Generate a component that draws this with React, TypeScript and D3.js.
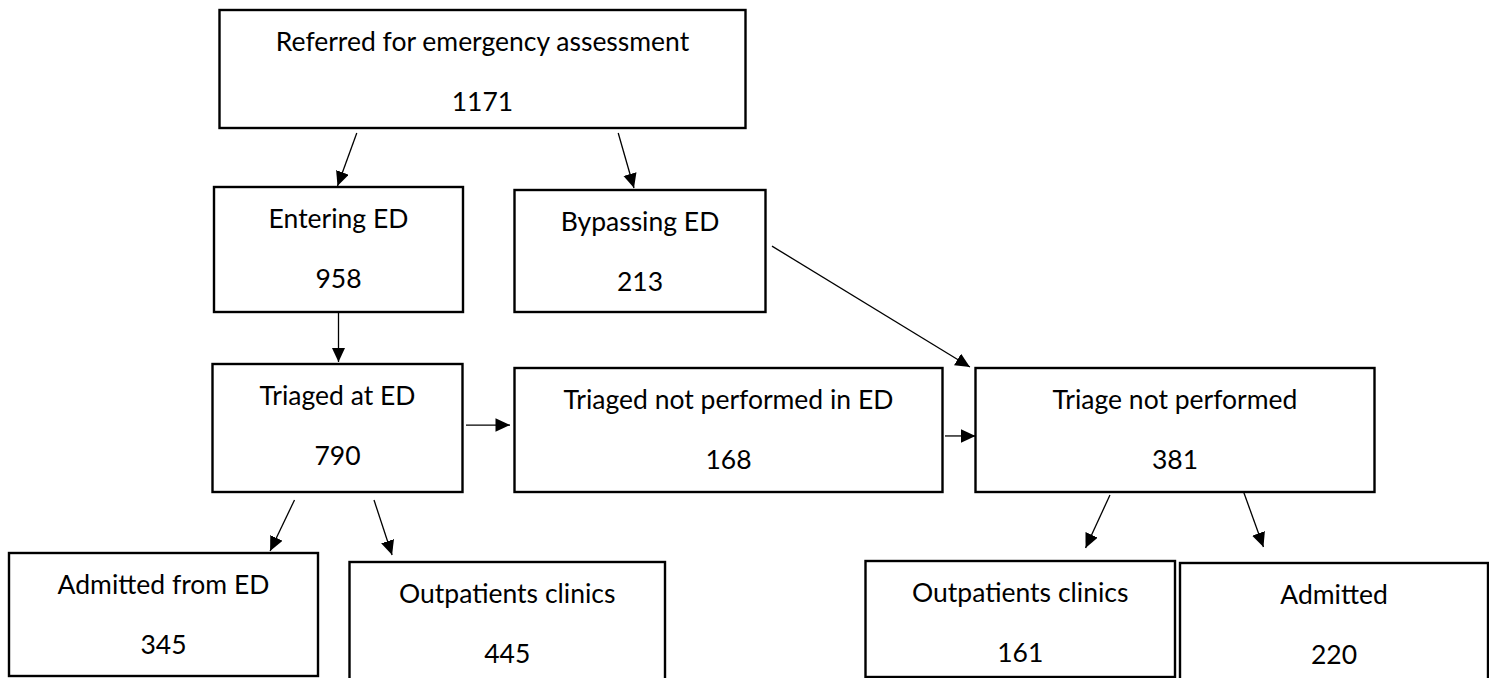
import { useRef, useEffect } from "react"
import * as d3 from "d3"

// flowchart content
const nodeIds = ["ref", "enter", "bypass", "triaged", "tnpEd", "tnp", "admEd", "opc1", "opc2", "adm"]
const nodeLabels = [
  "Referred for emergency assessment",
  "Entering ED",
  "Bypassing ED",
  "Triaged at ED",
  "Triaged not performed in ED",
  "Triage not performed",
  "Admitted from ED",
  "Outpatients clinics",
  "Outpatients clinics",
  "Admitted",
]
const nodeCounts = [1171, 958, 213, 790, 168, 381, 345, 445, 161, 220]

// flows between boxes: [from, to]
const flows = [
  ["ref", "enter"],
  ["ref", "bypass"],
  ["enter", "triaged"],
  ["bypass", "tnp"],
  ["triaged", "tnpEd"],
  ["tnpEd", "tnp"],
  ["triaged", "admEd"],
  ["triaged", "opc1"],
  ["tnp", "opc2"],
  ["tnp", "adm"],
]

// box layout [x0, y0, x1, y1]
const boxLayout = {
  ref: [219.5, 10, 745.5, 128],
  enter: [214, 187, 463, 312],
  bypass: [514.5, 190, 765.5, 312],
  triaged: [212.5, 364, 462.5, 492],
  tnpEd: [514.5, 368, 942.5, 492],
  tnp: [975.5, 368, 1374.5, 492],
  admEd: [9, 553, 318, 676],
  opc1: [349.5, 562, 665, 692],
  opc2: [865.5, 561, 1175, 677],
  adm: [1180, 563, 1488, 692],
}

// arrow anchors: [side, fraction along side, gap] for start and end
const flowAnchors = [
  [["bottom", 0.261, 5], ["top", 0.496, 1]],
  [["bottom", 0.758, 5], ["top", 0.476, 2]],
  [["bottom", 0.5, 1], ["top", 0.504, 2]],
  [["right", 0.46, 6.5], ["top", -0.014, 1]],
  [["right", 0.477, 3.5], ["left", 0.46, 4.5]],
  [["right", 0.548, 2.5], ["left", 0.548, 0]],
  [["bottom", 0.328, 8], ["top", 0.845, 2]],
  [["bottom", 0.646, 8], ["top", 0.135, 7]],
  [["bottom", 0.337, 3], ["top", 0.711, 13]],
  [["bottom", 0.672, 0], ["top", 0.271, 16]],
]

const W = 1489
const H = 678

const anchorPoint = (box, [side, f, gap]) => {
  const [x0, y0, x1, y1] = box
  if (side === "top") return [x0 + (x1 - x0) * f, y0 - gap]
  if (side === "bottom") return [x0 + (x1 - x0) * f, y1 + gap]
  if (side === "left") return [x0 - gap, y0 + (y1 - y0) * f]
  return [x1 + gap, y0 + (y1 - y0) * f]
}

const Flowchart = () => {
  const svgRef = useRef(null)

  useEffect(() => {
    const svg = d3.select(svgRef.current)
    svg.selectAll("*").remove()

    svg
      .append("defs")
      .append("marker")
      .attr("id", "head")
      .attr("markerUnits", "userSpaceOnUse")
      .attr("markerWidth", 16)
      .attr("markerHeight", 14)
      .attr("refX", 14.5)
      .attr("refY", 6.75)
      .attr("orient", "auto")
      .append("path")
      .attr("d", "M0,0L14.5,6.75L0,13.5Z")
      .attr("fill", "#000")

    const nodes = nodeIds.map((id, i) => ({ id, label: nodeLabels[i], count: nodeCounts[i], box: boxLayout[id] }))
    const byId = new Map(nodes.map((d) => [d.id, d]))

    const g = svg
      .selectAll(".node")
      .data(nodes)
      .enter()
      .append("g")
      .attr("class", "node")

    g.append("rect")
      .attr("x", (d) => d.box[0])
      .attr("y", (d) => d.box[1])
      .attr("width", (d) => d.box[2] - d.box[0])
      .attr("height", (d) => d.box[3] - d.box[1])
      .attr("fill", "#fff")
      .attr("stroke", "#000")
      .attr("stroke-width", 2.4)

    g.append("text")
      .attr("x", (d) => (d.box[0] + d.box[2]) / 2)
      .attr("y", (d) => d.box[1] + 31)
      .attr("dominant-baseline", "central")
      .attr("text-anchor", "middle")
      .text((d) => d.label)

    g.append("text")
      .attr("x", (d) => (d.box[0] + d.box[2]) / 2)
      .attr("y", (d) => d.box[1] + 91)
      .attr("dominant-baseline", "central")
      .attr("text-anchor", "middle")
      .text((d) => d.count)

    svg
      .selectAll(".flow")
      .data(flows)
      .enter()
      .append("line")
      .attr("class", "flow")
      .each(function ([from, to], i) {
        const [a, b] = flowAnchors[i]
        const p = anchorPoint(byId.get(from).box, a)
        const q = anchorPoint(byId.get(to).box, b)
        d3.select(this).attr("x1", p[0]).attr("y1", p[1]).attr("x2", q[0]).attr("y2", q[1])
      })
      .attr("stroke", "#000")
      .attr("stroke-width", 1.3)
      .attr("marker-end", "url(#head)")
  }, [])

  return (
    <svg
      ref={svgRef}
      width={W}
      height={H}
      style={{ position: "absolute", left: 0, top: 0, background: "#fff", fontFamily: "Lato, sans-serif", fontSize: 26.5 }}
    ></svg>
  )
}

export default function App() {
  return <Flowchart />
}
